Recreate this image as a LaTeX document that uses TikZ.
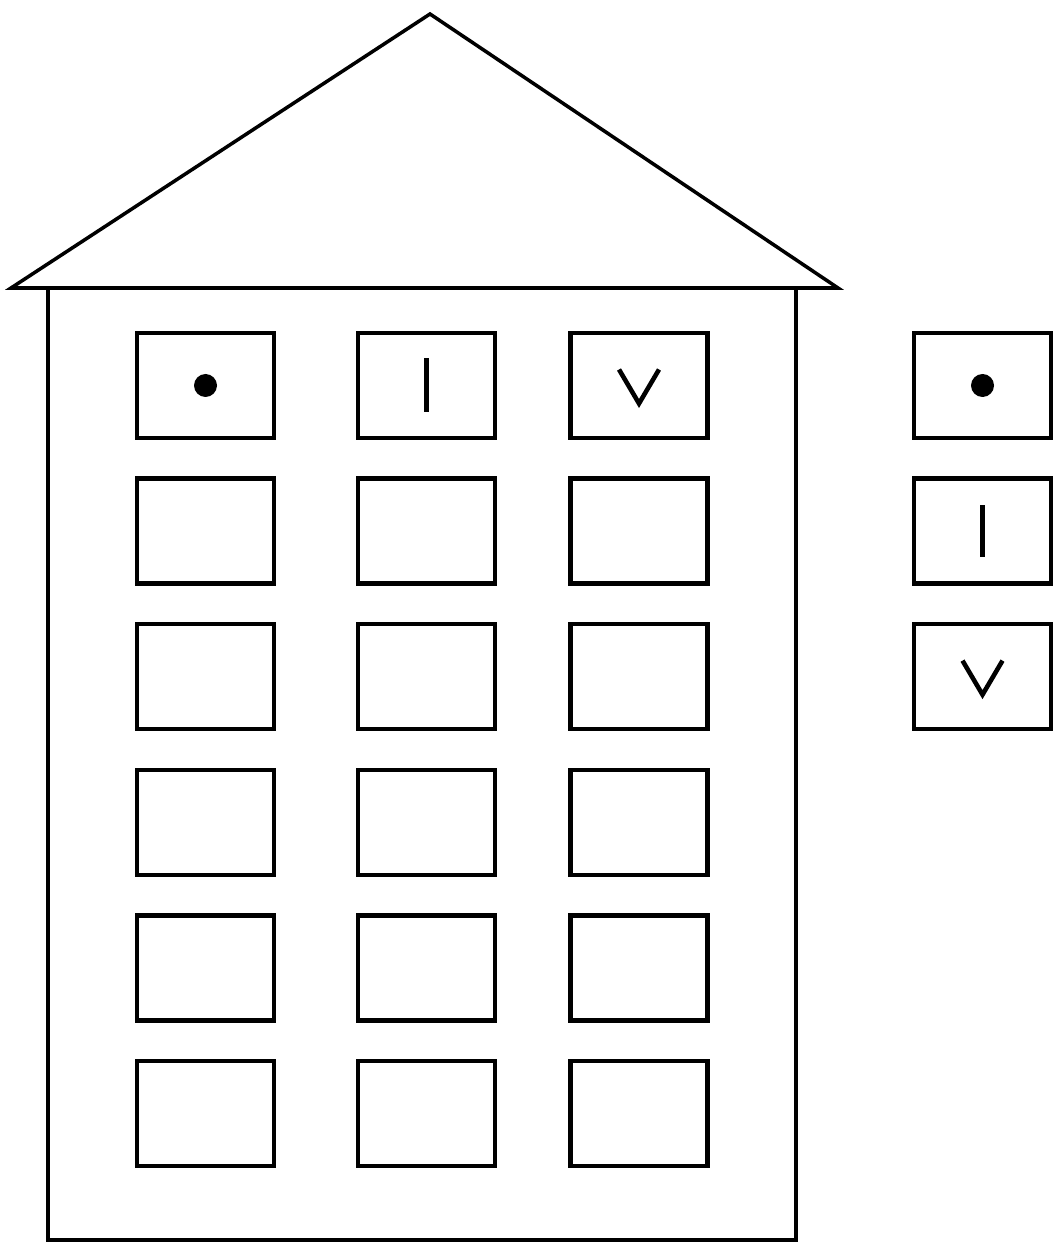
\documentclass[tikz,border=0pt]{standalone}
\usepackage{tikz}
\usetikzlibrary{positioning, calc}
\tikzset{
  wbox/.style={draw, line width=1.3pt, minimum width=1.37cm, minimum height=1.05cm, inner sep=0pt},
  wall/.style={line width=1.3pt, line join=miter},
  roofline/.style={line width=1pt, line join=miter},
  wsym/.style={line width=1.3pt},
}

\begin{document}
\begin{tikzpicture}
    \useasboundingbox (0,0) rectangle (10.57,-12.48);
    % roof and walls
    \draw[roofline] (0.11,-2.88) -- (4.30,-0.14) -- (8.38,-2.88) -- cycle;
    \draw[wall] (0.48,-2.89) -- (0.48,-12.40) -- (7.96,-12.40) -- (7.96,-2.89);
    % windows of the building
    \foreach \r in {1,...,6}
      \foreach \c/\x in {1/2.055, 2/4.265, 3/6.39}
        \node[wbox] (w-\r-\c) at (\x,{-3.855-1.456*(\r-1)}) {};
    % the three boxes on the side
    \node[wbox] (s1) at (9.825,-3.855) {};
    \node[wbox, below=0.36cm of s1] (s2) {};
    \node[wbox, below=0.36cm of s2] (s3) {};
    % symbols
    \fill (w-1-1) circle (0.115);
    \fill (s1) circle (0.115);
    \draw[wsym] ($(w-1-2)+(0,0.27)$) -- ($(w-1-2)+(0,-0.27)$);
    \draw[wsym] ($(s2)+(0,0.26)$) -- ($(s2)+(0,-0.26)$);
    \draw[wsym] ($(w-1-3)+(-0.2,0.16)$) -- ($(w-1-3)+(0,-0.18)$) -- ($(w-1-3)+(0.2,0.16)$);
    \draw[wsym] ($(s3)+(-0.2,0.16)$) -- ($(s3)+(0,-0.18)$) -- ($(s3)+(0.2,0.16)$);
\end{tikzpicture}
\end{document}
